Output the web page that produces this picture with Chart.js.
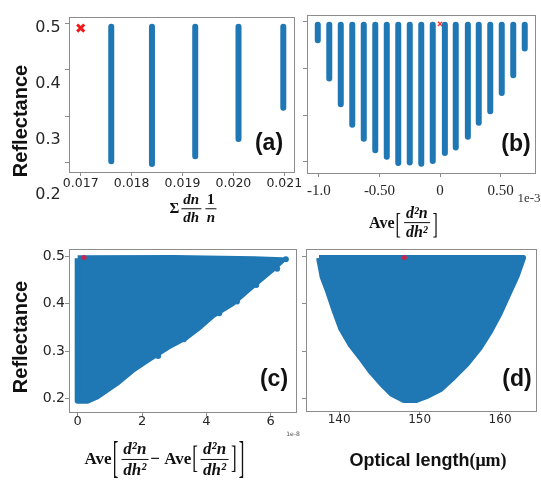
<!DOCTYPE html>
<html>
<head>
<meta charset="utf-8">
<script src="https://cdn.jsdelivr.net/npm/chart.js@4/dist/chart.umd.min.js"></script>
<style>
  body { margin: 0; background: #fff; }
  #wrap { position: relative; width: 541px; height: 485px; overflow: hidden; background: #fff; }
  canvas { position: absolute; }
  .t { position: absolute; white-space: nowrap; color: #111; transform: translate(-50%, -50%); z-index: 5; }
  .ylab { font: bold 20px "Liberation Sans", Arial, sans-serif; transform: translate(-50%, -50%) rotate(-90deg); }
  .tick { font: 16px "DejaVu Sans", sans-serif; color: #262626; }
  .pl { font: bold 23px "Liberation Sans", Arial, sans-serif; }
  .math { font-family: "Liberation Serif", "DejaVu Serif", serif; font-weight: bold; display: flex; align-items: center; }
  .frac { display: inline-flex; flex-direction: column; align-items: center; font-style: italic; margin: 0 2px; line-height: 1.15; }
  .frac > span:first-child { border-bottom: 1.6px solid #111; padding: 0 2px; }
  .up { font-style: normal; }
  .br { font-weight: normal; display: inline-block; transform: scaleY(1.9); margin: 0 1px; }
  .br2 { font-weight: normal; display: inline-block; transform: scaleY(2.6); margin: 0 1px; }
</style>
</head>
<body>
<div id="wrap">
  <div class="t ylab" style="left:20px;top:121px">Reflectance</div>
  <div class="t ylab" style="left:20px;top:337px">Reflectance</div>

  <div class="t tick" style="left:48px;top:26px">0.5</div>
  <div class="t tick" style="left:48px;top:82px">0.4</div>
  <div class="t tick" style="left:48px;top:138px">0.3</div>
  <div class="t tick" style="left:48px;top:193px">0.2</div>

  <div class="t pl" style="left:269px;top:142px">(a)</div>
  <div class="t pl" style="left:516px;top:143px">(b)</div>
  <div class="t pl" style="left:274px;top:378px">(c)</div>
  <div class="t pl" style="left:517px;top:378px">(d)</div>

  <div class="t" style="left:529px;top:198px;font:13px 'Liberation Serif',serif;color:#333">1e-3</div>
  <div class="t" style="left:293px;top:433px;font:6px 'DejaVu Sans',sans-serif;color:#555">1e-8</div>

  <div class="t math" style="left:194px;top:209px;font-size:15px">Σ<span class="frac"><span>dn</span><span>dh</span></span><span class="frac"><span class="up">1</span><span>n</span></span></div>
  <div class="t math" style="left:404px;top:223px;font-size:16px">Ave<span class="br">[</span><span class="frac"><span>d²n</span><span>dh²</span></span><span class="br">]</span></div>
  <div class="t math" style="left:165px;top:459px;font-size:17px">Ave<span class="br2">[</span><span class="frac"><span>d²n</span><span>dh²</span></span>−&nbsp;Ave<span class="br">[</span><span class="frac"><span>d²n</span><span>dh²</span></span><span class="br">]</span><span class="br2">]</span></div>
  <div class="t" style="left:428px;top:460px;font:bold 18px 'Liberation Sans',Arial,sans-serif">Optical length<span style="font-family:'Liberation Serif',serif">(μm)</span></div>
</div>
<script>
const BLUE = '#1f77b4';

// (a) columns of points
const aColX = [0.0176, 0.0184, 0.01925, 0.0201, 0.02098];
const aColMin = [0.202, 0.196, 0.213, 0.250, 0.318];
const aTop = 0.494;
const aMark = { x: 0.017, y: 0.491 };
const aXTicks = [0.017, 0.018, 0.019, 0.020, 0.021];
const aXLabels = ['0.017', '0.018', '0.019', '0.020', '0.021'];
const rTicks = [0.2, 0.3, 0.4, 0.5];

// (b) columns, x in units of 1e-3
const bColX = [-1.01, -0.915, -0.82, -0.725, -0.63, -0.535, -0.44, -0.345, -0.25, -0.155,
  -0.06, 0.04, 0.13, 0.23, 0.32, 0.415, 0.51, 0.605, 0.70];
const bColMin = [0.461, 0.379, 0.324, 0.280, 0.250, 0.225, 0.211, 0.198, 0.199, 0.196,
  0.202, 0.219, 0.231, 0.254, 0.284, 0.309, 0.348, 0.386, 0.443];
const bTop = 0.494;
const bMark = { x: 0.0, y: 0.496 };
const bXTicks = [-1.0, -0.5, 0, 0.5];
const bXLabels = ['-1.0', '-0.50', '0', '0.50'];

// (c) outline of the point cloud, x in units of 1e-8
const cEdgeX = [0, 3.0, 5.5, 6.35, 6.1, 5.4, 4.8, 4.2, 3.8, 3.4, 2.8, 2.25, 1.7, 1.2, 0.6, 0.3, 0];
const cEdgeY = [0.496, 0.497, 0.494, 0.492, 0.476, 0.436, 0.401, 0.376, 0.352, 0.331, 0.309, 0.285, 0.26, 0.232, 0.204, 0.195, 0.195];
const cDotX = [6.47, 6.2, 5.55, 4.95, 4.4, 3.3, 2.5];
const cDotY = [0.494, 0.474, 0.44, 0.405, 0.38, 0.325, 0.29];
const cMark = { x: 0.2, y: 0.498 };
const cXTicks = [0, 2, 4, 6];
const cXLabels = ['0', '2', '4', '6'];
const cYLabels = ['0.2', '0.3', '0.4', '0.5'];

// (d) outline of the point cloud
const dEdgeX = [137.5, 137.95, 138.55, 139.45, 140.25, 141.45, 142.7, 143.9, 145.3, 146.55, 148.0,
  149.6, 151.0, 152.6, 154.2, 155.85, 157.45, 158.75, 159.95, 161.15, 162.05, 162.85];
const dEdgeY = [0.497, 0.457, 0.43, 0.385, 0.348, 0.313, 0.286, 0.258, 0.231, 0.21, 0.197,
  0.197, 0.206, 0.22, 0.245, 0.273, 0.307, 0.342, 0.38, 0.425, 0.458, 0.497];
const dMark = { x: 148.1, y: 0.498 };
const dXTicks = [140, 150, 160];
const dXLabels = ['140', '150', '160'];

const frame = {
  id: 'frame',
  beforeDatasetsDraw(chart) {
    const { ctx, chartArea: a } = chart;
    ctx.save();
    ctx.strokeStyle = '#8c8c8c';
    ctx.lineWidth = 1;
    ctx.strokeRect(Math.round(a.left) + 0.5, Math.round(a.top) + 0.5, Math.round(a.width) - 1, Math.round(a.height));
    ctx.restore();
  }
};

function axis(o, dir, size) {
  return {
    type: 'linear',
    position: dir === 'x' ? 'bottom' : 'left',
    min: o.min, max: o.max,
    afterBuildTicks: s => { s.ticks = o.ticks.map(v => ({ value: v })); },
    afterFit: s => {
      if (dir === 'x') s.height = size; else s.width = size;
      s.paddingLeft = s.paddingRight = s.paddingTop = s.paddingBottom = 0;
    },
    grid: { drawOnChartArea: false, tickLength: 4, color: '#8c8c8c' },
    border: { display: false },
    ticks: {
      display: !!o.labels, autoSkip: false, maxRotation: 0, minRotation: 0,
      padding: o.pad || 0, color: '#262626',
      font: o.font || { family: 'DejaVu Sans', size: 13 },
      callback: (v, i) => o.labels ? o.labels[i] : ''
    }
  };
}

function panel(box, datasets, x, y, padR) {
  const L = 45, T = 6, B = 40, R = padR || 6;
  const c = document.createElement('canvas');
  c.width = box[2] - box[0] + L + R;
  c.height = box[3] - box[1] + T + B;
  c.style.left = (box[0] - L) + 'px';
  c.style.top = (box[1] - T) + 'px';
  document.getElementById('wrap').appendChild(c);
  new Chart(c, {
    type: 'scatter',
    data: { datasets },
    options: {
      responsive: false, animation: false, devicePixelRatio: 1,
      layout: { padding: { left: 0, top: T, right: R, bottom: 0 } },
      plugins: { legend: { display: false }, tooltip: { enabled: false } },
      scales: { x: axis(x, 'x', B), y: axis(y, 'y', L) }
    },
    plugins: [frame]
  });
}

function cols(xs, mins, top) {
  return xs.map((x, i) => ({
    data: [{ x, y: top }, { x, y: mins[i] }],
    showLine: true, borderColor: BLUE, borderWidth: 6, borderCapStyle: 'round', pointRadius: 0
  }));
}

function cloud(xs, ys) {
  const pts = xs.map((x, i) => ({ x, y: ys[i] }));
  pts.push(pts[0]);
  return {
    data: pts, showLine: true, fill: 'shape', backgroundColor: BLUE, borderColor: BLUE,
    borderWidth: 6, borderJoinStyle: 'round', pointRadius: 0, tension: 0
  };
}

function mark(p, style, r, w, col) {
  return { data: [p], pointStyle: style, pointRadius: r, borderWidth: w, borderColor: col, backgroundColor: col };
}

panel([69, 15, 301, 172],
  [mark(aMark, 'crossRot', 5, 3, '#ee1c1c')].concat(cols(aColX, aColMin, aTop)),
  { min: 0.01677, max: 0.02121, ticks: aXTicks, labels: aXLabels, font: { family: 'DejaVu Sans', size: 12.5 } },
  { min: 0.1786, max: 0.515, ticks: rTicks }, 2);

panel([307, 15, 536, 173],
  [mark(bMark, 'crossRot', 3, 1.3, '#ff3030')].concat(cols(bColX, bColMin, bTop)),
  { min: -1.099, max: 0.793, ticks: bXTicks, labels: bXLabels, pad: 5, font: { family: 'Liberation Serif', size: 15 } },
  { min: 0.1764, max: 0.515, ticks: rTicks });

panel([69, 249, 297, 412],
  [mark(cMark, 'circle', 2.5, 0, '#c8264a'),
   { data: cDotX.map((x, i) => ({ x, y: cDotY[i] })), pointRadius: 3, borderWidth: 0, backgroundColor: BLUE },
   cloud(cEdgeX, cEdgeY)],
  { min: -0.27, max: 6.817, ticks: cXTicks, labels: cXLabels, pad: -2, font: { family: 'DejaVu Sans', size: 13 } },
  { min: 0.1715, max: 0.5158, ticks: rTicks, labels: cYLabels, font: { family: 'DejaVu Sans', size: 14 } });

panel([306, 249, 538, 411],
  [mark(dMark, 'circle', 2.5, 0, '#c8264a'), cloud(dEdgeX, dEdgeY)],
  { min: 135.88, max: 164.59, ticks: dXTicks, labels: dXLabels, pad: -2, font: { family: 'DejaVu Sans', size: 12 } },
  { min: 0.1736, max: 0.5158, ticks: rTicks }, 3);
</script>
</body>
</html>
